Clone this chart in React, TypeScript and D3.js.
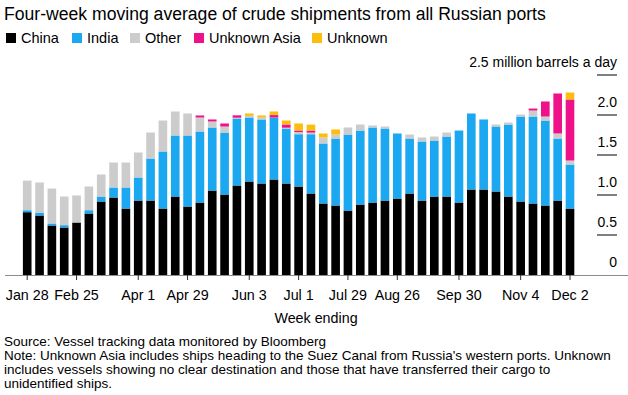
import React from "react";
import * as d3 from "d3";

// week ending dates (2022 Fridays)
const weeks = [
  "Jan 28", "Feb 4", "Feb 11", "Feb 18", "Feb 25", "Mar 4", "Mar 11", "Mar 18", "Mar 25",
  "Apr 1", "Apr 8", "Apr 15", "Apr 22", "Apr 29", "May 6", "May 13", "May 20", "May 27",
  "Jun 3", "Jun 10", "Jun 17", "Jun 24", "Jul 1", "Jul 8", "Jul 15", "Jul 22", "Jul 29",
  "Aug 5", "Aug 12", "Aug 19", "Aug 26", "Sep 2", "Sep 9", "Sep 16", "Sep 23", "Sep 30",
  "Oct 7", "Oct 14", "Oct 21", "Oct 28", "Nov 4", "Nov 11", "Nov 18", "Nov 25", "Dec 2",
];

const tickWeeks = ["Jan 28", "Feb 25", "Apr 1", "Apr 29", "Jun 3", "Jul 1", "Jul 29", "Aug 26", "Sep 30", "Nov 4", "Dec 2"];
const yTicks = [0, 0.5, 1.0, 1.5, 2.0, 2.5];

// million barrels a day
const china = [
  0.785, 0.744, 0.619, 0.594, 0.656, 0.769, 0.919, 0.969, 0.831, 0.931, 0.931, 0.831, 0.981, 0.856, 0.906,
  1.056, 1.006, 1.119, 1.169, 1.144, 1.194, 1.144, 1.106, 1.019, 0.894, 0.869, 0.806, 0.881, 0.906, 0.931,
  0.956, 1.019, 0.931, 0.981, 0.981, 0.906, 1.069, 1.069, 1.044, 0.981, 0.919, 0.894, 0.869, 0.931, 0.831,
];
const india = [
  0.025, 0.036, 0.025, 0.029, 0, 0.041, 0.062, 0.125, 0.263, 0.288, 0.525, 0.713, 0.763, 0.888, 0.888,
  0.788, 0.775, 0.837, 0.8, 0.8, 0.775, 0.687, 0.654, 0.741, 0.75, 0.837, 0.95, 0.925, 0.938, 0.9,
  0.813, 0.687, 0.738, 0.7, 0.75, 0.9, 0.95, 0.875, 0.812, 0.9, 1.062, 1.087, 1.062, 0.775, 0.55,
];
const other = [
  0.37, 0.376, 0.437, 0.358, 0.338, 0.296, 0.275, 0.312, 0.312, 0.312, 0.325, 0.387, 0.3, 0.275, 0.175,
  0.075, 0.075, 0.01, 0.02, 0.025, 0, 0.01, 0.026, 0.02, 0.075, 0.05, 0.088, 0.075, 0.025, 0.025,
  0, 0.05, 0.05, 0.05, 0.05, 0, 0, 0, 0.025, 0.025, 0.025, 0.075, 0.05, 0.063, 0.05,
];
const unknownAsia = [
  0, 0, 0, 0, 0, 0, 0, 0, 0, 0, 0, 0, 0, 0, 0.025,
  0.025, 0.038, 0.03, 0, 0, 0.03, 0.04, 0.02, 0.025, 0, 0, 0, 0, 0, 0,
  0, 0, 0, 0, 0, 0, 0, 0, 0, 0, 0, 0.025, 0.188, 0.5, 0.763,
];
const unknown = [
  0, 0, 0, 0, 0, 0, 0, 0, 0, 0, 0, 0, 0, 0, 0,
  0, 0, 0, 0.03, 0.025, 0.045, 0.05, 0.088, 0.075, 0.05, 0.063, 0, 0, 0, 0,
  0, 0, 0, 0, 0, 0, 0, 0, 0, 0, 0, 0, 0, 0, 0.087,
];

const seriesKeys = ["China", "India", "Other", "Unknown Asia", "Unknown"];
const colors = ["#000000", "#1ba8f1", "#cccccc", "#ef1189", "#fbbd0e"];

const W = 628;
const H = 395;
const font = "'Liberation Sans', Arial, sans-serif";

export default function App() {
  const rows = weeks.map((w, i) => ({
    week: w,
    China: china[i],
    India: india[i],
    Other: other[i],
    "Unknown Asia": unknownAsia[i],
    Unknown: unknown[i],
  }));
  const stacked = d3.stack<any>().keys(seriesKeys)(rows);

  const x = d3.scalePoint<string>().domain(weeks).range([27.2, 570]);
  const barW = x.step() * 0.7;
  const y = d3.scaleLinear().domain([0, 2.5]).range([275, 75]);

  const legendX = [6, 72, 130, 194, 312];

  return (
    <svg width={W} height={H} style={{ position: "absolute", left: 0, top: 0, background: "#fff" }} fontFamily={font}>
      <text x={4} y={20} fontSize={17.6} fill="#000">
        Four-week moving average of crude shipments from all Russian ports
      </text>

      {seriesKeys.map((k, i) => (
        <g key={k} transform={`translate(${legendX[i]},0)`}>
          <rect x={0} y={33} width={10} height={10} fill={colors[i]} />
          <text x={15} y={43} fontSize={14.5} fill="#000">{k}</text>
        </g>
      ))}

      {/* y gridline ticks on the right */}
      {yTicks.map((t) => (
        <g key={t}>
          {t > 0 && <line x1={597} x2={617} y1={y(t)} y2={y(t)} stroke="#000" strokeWidth={1} />}
          <text x={617} y={y(t) - 8} textAnchor="end" fontSize={14} fill="#000">
            {t === 2.5 ? "2.5 million barrels a day" : t === 0 ? "0" : t.toFixed(1)}
          </text>
        </g>
      ))}

      {stacked.map((layer, li) => (
        <g key={layer.key} fill={colors[li]}>
          {layer.map((d, i) =>
            d[1] - d[0] > 0 ? (
              <rect
                key={i}
                x={(x(weeks[i]) as number) - barW / 2}
                y={y(d[1])}
                width={barW}
                height={y(d[0]) - y(d[1])}
              />
            ) : null
          )}
        </g>
      ))}

      <line x1={5} x2={628} y1={y(0) + 0.5} y2={y(0) + 0.5} stroke="#8c8c8c" strokeWidth={1} />
      {tickWeeks.map((w) => (
        <g key={w} transform={`translate(${x(w)},0)`}>
          <line y1={y(0)} y2={y(0) + 5} stroke="#333" strokeWidth={1} />
          <text y={300} textAnchor="middle" fontSize={14.3} fill="#000">{w}</text>
        </g>
      ))}
      <text x={316} y={323} textAnchor="middle" fontSize={14.3} fill="#000">Week ending</text>

      <g fontSize={13.5} fill="#000">
        <text x={4} y={346}>Source: Vessel tracking data monitored by Bloomberg</text>
        <text x={4} y={360}>Note: Unknown Asia includes ships heading to the Suez Canal from Russia's western ports. Unknown</text>
        <text x={4} y={374}>includes vessels showing no clear destination and those that have transferred their cargo to</text>
        <text x={4} y={388}>unidentified ships.</text>
      </g>
    </svg>
  );
}
